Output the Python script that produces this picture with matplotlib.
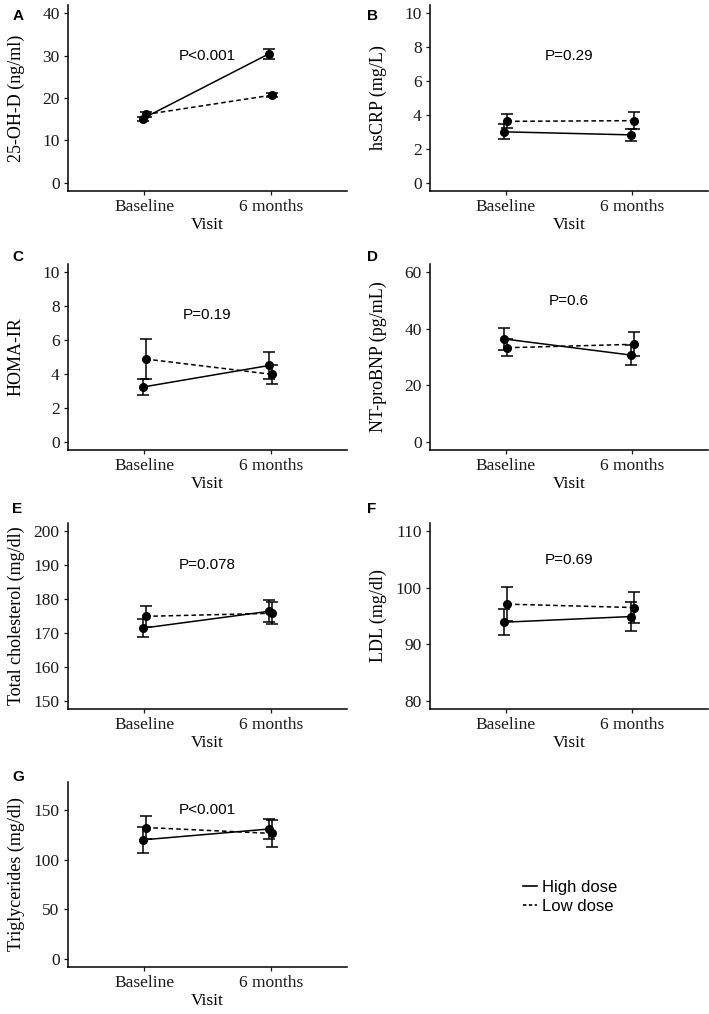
import numpy as np
import matplotlib.pyplot as plt
from matplotlib.lines import Line2D

plt.rcParams['font.family'] = 'Liberation Serif'
plt.rcParams['font.size'] = 12

visits = ['Baseline', '6 months']

# mean and error for each panel: [baseline, 6 months]
oh_d_high = [15.1, 30.5]
oh_d_high_err = [0.5, 1.2]
oh_d_low = [16.1, 20.7]
oh_d_low_err = [0.5, 0.5]

crp_high = [3.0, 2.82]
crp_high_err = [0.45, 0.37]
crp_low = [3.62, 3.66]
crp_low_err = [0.42, 0.5]

homa_high = [3.22, 4.5]
homa_high_err = [0.45, 0.8]
homa_low = [4.88, 3.97]
homa_low_err = [1.19, 0.55]

bnp_high = [36.4, 30.7]
bnp_high_err = [4.0, 3.6]
bnp_low = [33.3, 34.5]
bnp_low_err = [3.0, 4.3]

chol_high = [171.4, 176.4]
chol_high_err = [2.6, 3.3]
chol_low = [174.9, 175.8]
chol_low_err = [3.2, 3.2]

ldl_high = [93.9, 94.9]
ldl_high_err = [2.3, 2.6]
ldl_low = [97.1, 96.5]
ldl_low_err = [3.0, 2.8]

tg_high = [120.0, 131.0]
tg_high_err = [13.0, 10.0]
tg_low = [132.5, 126.5]
tg_low_err = [12.0, 14.0]

W, H = 709, 1014
fig = plt.figure(figsize=(W / 100, H / 100), dpi=100)


def add_ax(x0, y0, x1, y1):
    # pixel box -> figure fraction
    return fig.add_axes([x0 / W, 1 - y1 / H, (x1 - x0) / W, (y1 - y0) / H])


# label, axes box (px), label pos (px), ylabel, y range, yticks, data, p text
panels = [
    ('A', (68, 5, 347, 191), (13, 16), '25-OH-D (ng/ml)', (0, 40),
     [0, 10, 20, 30, 40],
     oh_d_high, oh_d_high_err, oh_d_low, oh_d_low_err, 'P<0.001', 30),
    ('B', (430, 5, 708, 191), (367, 16), 'hsCRP (mg/L)', (0, 10),
     [0, 2, 4, 6, 8, 10],
     crp_high, crp_high_err, crp_low, crp_low_err, 'P=0.29', 7.5),
    ('C', (68, 264, 347, 450), (12, 257), 'HOMA-IR', (0, 10),
     [0, 2, 4, 6, 8, 10],
     homa_high, homa_high_err, homa_low, homa_low_err, 'P=0.19', 7.5),
    ('D', (430, 264, 708, 450), (367, 257), 'NT-proBNP (pg/mL)', (0, 60),
     [0, 20, 40, 60],
     bnp_high, bnp_high_err, bnp_low, bnp_low_err, 'P=0.6', 50),
    ('E', (68, 523, 347, 709), (12, 509), 'Total cholesterol (mg/dl)',
     (150, 200), [150, 160, 170, 180, 190, 200],
     chol_high, chol_high_err, chol_low, chol_low_err, 'P=0.078', 190),
    ('F', (430, 523, 708, 709), (367, 509), 'LDL (mg/dl)', (80, 110),
     [80, 90, 100, 110],
     ldl_high, ldl_high_err, ldl_low, ldl_low_err, 'P=0.69', 105),
    ('G', (68, 782, 347, 967), (12, 777), 'Triglycerides (mg/dl)', (0, 170),
     [0, 50, 100, 150],
     tg_high, tg_high_err, tg_low, tg_low_err, 'P<0.001', 150),
]

x = np.array([1, 2])
dodge = 0.0125

for (lab, box, lpos, ylab, yr, yt, hi, hie, lo, loe, ptxt, py) in panels:
    ax = add_ax(*box)
    ax.errorbar(x - dodge, hi, yerr=hie, color='black', ls='-', lw=1.1,
                marker='o', ms=5.5, capsize=4, elinewidth=1.1, capthick=1.1)
    ax.errorbar(x + dodge, lo, yerr=loe, color='black', ls=(0, (3, 2)),
                lw=1.1, marker='o', ms=5.5, capsize=4, elinewidth=1.1,
                capthick=1.1)
    pad = 0.05 * (yr[1] - yr[0])
    ax.set_ylim(yr[0] - pad, yr[1] + pad)
    ax.set_xlim(0.4, 2.6)
    ax.set_yticks(yt)
    ax.set_xticks(x)
    ax.set_xticklabels(visits)
    for s in ['top', 'right']:
        ax.spines[s].set_visible(False)
    for s in ['left', 'bottom']:
        ax.spines[s].set_linewidth(1.1)
    ax.tick_params(length=3, width=0.9, labelsize=12.5, colors='#1a1a1a',
                   pad=3)
    ax.set_xlabel('Visit', fontsize=12.5, labelpad=1)
    ax.set_ylabel(ylab, fontsize=13, va='center')
    bw = box[2] - box[0]
    ax.yaxis.set_label_coords(-52 / bw, 0.5)
    ax.text(1.5, py, ptxt, ha='center', va='center', fontsize=11,
            family='Liberation Sans')
    fig.text(lpos[0] / W, 1 - lpos[1] / H, lab,
             fontsize=11, fontweight='bold', family='Liberation Sans',
             ha='left', va='center')

handles = [Line2D([], [], color='black', lw=1.2, ls='-'),
           Line2D([], [], color='black', lw=1.2, ls=(0, (2, 1.5)))]
fig.legend(handles, ['High dose', 'Low dose'], loc='center left',
           bbox_to_anchor=(508 / W, 1 - 897 / H), frameon=False,
           handlelength=0.85, handletextpad=0.3, labelspacing=0.2,
           prop={'family': 'Liberation Sans', 'size': 12})

plt.savefig('out.png', dpi=100)
